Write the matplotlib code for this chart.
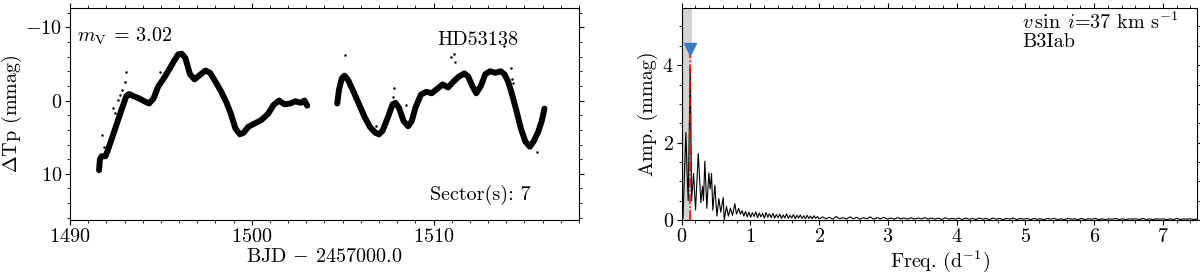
import numpy as np
import matplotlib
matplotlib.use("Agg")
import matplotlib.pyplot as plt
from matplotlib.ticker import MultipleLocator

plt.rcParams['font.family'] = ['cmr10', 'DejaVu Serif']
plt.rcParams['mathtext.fontset'] = 'cm'
plt.rcParams['axes.formatter.use_mathtext'] = True
plt.rcParams['axes.unicode_minus'] = True

# ---------------- light curve (band centre) ----------------
t_seg1 = [1491.60, 1491.65, 1491.75, 1491.95, 1492.05, 1492.30, 1492.60, 1492.90,
          1493.10, 1493.25, 1493.50, 1493.80, 1494.10, 1494.35, 1494.60, 1494.85,
          1495.10, 1495.40, 1495.70, 1495.95, 1496.15, 1496.35, 1496.60, 1496.85,
          1497.10, 1497.45, 1497.70, 1498.00, 1498.30, 1498.60, 1498.85, 1499.10,
          1499.35, 1499.55, 1499.80, 1500.10, 1500.50, 1500.90, 1501.20, 1501.50,
          1501.80, 1502.10, 1502.40, 1502.70, 1502.90, 1503.05]
m_seg1 = [9.5, 8.0, 7.6, 7.6, 7.0, 5.2, 3.0, 0.8,
          -0.6, -0.9, -0.6, -0.3, 0.1, 0.4, -0.3, -1.9,
          -2.8, -4.0, -5.3, -6.3, -6.4, -5.8, -3.6, -2.9,
          -3.4, -4.1, -3.8, -2.6, -1.3, 0.2, 1.8, 3.8,
          4.6, 4.4, 3.6, 3.2, 2.7, 1.8, 0.6, 0.0,
          0.5, 0.4, 0.1, 0.3, 0.0, 0.7]
t_seg2 = [1504.70, 1504.80, 1504.95, 1505.10, 1505.30, 1505.60, 1505.90, 1506.20,
          1506.50, 1506.80, 1507.00, 1507.20, 1507.50, 1507.75, 1507.90, 1508.10,
          1508.35, 1508.60, 1508.80, 1509.00, 1509.30, 1509.60, 1509.90, 1510.20,
          1510.50, 1510.80, 1511.10, 1511.40, 1511.70, 1511.90, 1512.15, 1512.35,
          1512.60, 1512.85, 1513.10, 1513.40, 1513.70, 1513.90, 1514.10, 1514.30,
          1514.55, 1514.80, 1515.05, 1515.30, 1515.50, 1515.75, 1515.95, 1516.10]
m_seg2 = [0.4, -1.5, -3.0, -3.4, -2.8, -1.2, 0.5, 2.2,
          3.6, 4.4, 4.6, 4.1, 2.2, 0.5, 0.3, 1.0,
          2.8, 3.5, 2.8, 1.0, -0.8, -1.2, -1.0, -1.6,
          -2.2, -1.8, -2.6, -3.3, -3.7, -3.3, -1.9, -1.0,
          -2.0, -3.6, -4.0, -3.8, -4.0, -3.6, -2.6, -1.0,
          1.3, 3.8, 5.6, 6.3, 5.6, 4.3, 2.8, 1.1]
# isolated points off the band
t_out = [1491.74, 1491.87, 1492.38, 1492.47, 1492.66, 1492.75, 1492.84, 1493.02,
         1493.10, 1494.95, 1505.13, 1506.86, 1507.77, 1507.82, 1508.50, 1510.97,
         1511.15, 1511.17, 1513.85, 1514.26, 1514.30, 1514.35, 1515.70]
m_out = [4.7, 6.3, 1.0, 1.7, -0.1, -0.8, -1.5, -2.6,
         -3.9, -3.9, -6.2, 3.5, -0.5, -1.7, 0.6, -6.0,
         -6.4, -5.3, -7.4, -4.4, -3.0, -2.4, 7.0]

# ---------------- amplitude spectrum ----------------
f_lo = [0.000, 0.020, 0.040, 0.062, 0.080, 0.096, 0.125, 0.145, 0.174, 0.203,
        0.242, 0.280, 0.304, 0.318, 0.338, 0.367, 0.396, 0.416, 0.435, 0.454,
        0.483, 0.513, 0.542, 0.570, 0.605, 0.620, 0.653, 0.680, 0.710, 0.740,
        0.774, 0.798, 0.830]
a_lo = [0.30, 0.05, 1.10, 2.26, 1.20, 0.50, 3.92, 0.50, 1.20, 0.26,
        1.72, 0.45, 0.87, 0.50, 1.52, 0.30, 1.22, 0.80, 1.20, 0.25,
        0.90, 0.10, 0.55, 0.20, 0.58, 0.00, 0.35, 0.10, 0.30, 0.12,
        0.42, 0.15, 0.30]
a_mid = [0.15, 0.24, 0.10, 0.22, 0.08, 0.20, 0.07, 0.19, 0.09, 0.21, 0.06, 0.18,
         0.08, 0.17, 0.05, 0.19, 0.07, 0.16, 0.06, 0.17, 0.05, 0.14, 0.06, 0.15,
         0.04, 0.13, 0.05, 0.16, 0.04, 0.12, 0.05, 0.14, 0.03, 0.12, 0.05, 0.13,
         0.04, 0.11, 0.03, 0.12, 0.04, 0.10, 0.03, 0.11, 0.04, 0.09, 0.03]
a_hi = [0.08, 0.03, 0.07, 0.02, 0.09, 0.03, 0.06, 0.02, 0.08, 0.03, 0.07, 0.02,
        0.06, 0.03, 0.08, 0.02, 0.06, 0.03, 0.07, 0.02, 0.05, 0.02, 0.06, 0.03,
        0.05, 0.02, 0.06, 0.02, 0.05, 0.03, 0.06, 0.02, 0.05, 0.02, 0.05, 0.01,
        0.06, 0.02, 0.04, 0.02, 0.05, 0.01, 0.05, 0.02, 0.04, 0.01, 0.05, 0.02,
        0.04, 0.01, 0.05, 0.02, 0.04, 0.01, 0.04, 0.02, 0.05, 0.01, 0.04, 0.02,
        0.04, 0.01, 0.04, 0.02, 0.03, 0.01, 0.04, 0.02, 0.04, 0.01, 0.03, 0.01,
        0.04, 0.02, 0.03, 0.01, 0.04, 0.01, 0.03, 0.02, 0.04, 0.01, 0.03, 0.01,
        0.03, 0.02, 0.04, 0.01, 0.03, 0.01, 0.03, 0.02, 0.03, 0.01, 0.04, 0.01,
        0.03, 0.01, 0.03, 0.02, 0.03, 0.01, 0.03, 0.01, 0.04, 0.01, 0.03, 0.02,
        0.03, 0.01, 0.03]
f_mid = np.linspace(0.855, 2.0, len(a_mid))
f_hi = np.linspace(2.05, 7.5, len(a_hi))
freq = np.concatenate([f_lo, f_mid, f_hi])
amp = np.concatenate([a_lo, a_mid, a_hi])

f_peak = 0.125
a_mark = 4.41
f_shade = 0.145

FS = 14.5

fig = plt.figure(figsize=(12, 2.76), dpi=100)
ax1 = fig.add_axes([0.0583, 0.203, 0.4242, 0.767])
ax2 = fig.add_axes([0.568, 0.203, 0.4298, 0.767])

ax1.plot(t_seg1, m_seg1, color='black', lw=4.3, solid_joinstyle='round', solid_capstyle='round')
ax1.plot(t_seg2, m_seg2, color='black', lw=4.3, solid_joinstyle='round', solid_capstyle='round')
ax1.plot(t_out, m_out, 'o', color='black', ms=1.8, mew=0)
ax1.set_xlim(1490, 1518)
ax1.set_ylim(16.3, -12.6)
ax1.xaxis.set_major_locator(MultipleLocator(10))
ax1.xaxis.set_minor_locator(MultipleLocator(1))
ax1.yaxis.set_major_locator(MultipleLocator(10))
ax1.yaxis.set_minor_locator(MultipleLocator(2))
ax1.set_xlabel(r'BJD $-$ 2457000.0', fontsize=FS, labelpad=2)
ax1.set_ylabel(r'$\Delta$Tp (mmag)', fontsize=FS, labelpad=1)
ax1.text(0.014, 0.87, r'$m_{\rm V}$ = 3.02', transform=ax1.transAxes, fontsize=FS, va='center', ha='left')
ax1.text(0.882, 0.85, 'HD53138', transform=ax1.transAxes, fontsize=FS, va='center', ha='right')
ax1.text(0.905, 0.12, 'Sector(s): 7', transform=ax1.transAxes, fontsize=FS, va='center', ha='right')

ax2.axvspan(0, f_shade, color='#d3d3d3', lw=0, zorder=0)
ax2.plot(freq, amp, color='black', lw=0.8, zorder=2)
ax2.plot([f_peak, f_peak], [0, a_mark], color='red', ls='-.', lw=1.1, zorder=3)
ax2.plot([f_peak], [a_mark], 'v', color='#3a7dc2', ms=9, zorder=4)
ax2.set_xlim(0, 7.5)
ax2.set_ylim(0, 5.47)
ax2.xaxis.set_major_locator(MultipleLocator(1))
ax2.xaxis.set_minor_locator(MultipleLocator(0.2))
ax2.yaxis.set_major_locator(MultipleLocator(2))
ax2.yaxis.set_minor_locator(MultipleLocator(0.5))
ax2.set_xlabel(r'Freq. (d$^{-1}$)', fontsize=FS, labelpad=2)
ax2.set_ylabel('Amp. (mmag)', fontsize=FS, labelpad=3)
ax2.text(0.66, 0.935, r'$v\,\sin\;i$=37 km s$^{-1}$', transform=ax2.transAxes, fontsize=FS, va='center', ha='left')
ax2.text(0.66, 0.84, 'B3Iab', transform=ax2.transAxes, fontsize=FS, va='center', ha='left')

for ax in (ax1, ax2):
    ax.tick_params(which='both', direction='out', top=True, right=True, labelsize=FS, pad=2)
    ax.tick_params(which='major', length=3.5, width=0.8)
    ax.tick_params(which='minor', length=2.0, width=0.6)
    for s in ax.spines.values():
        s.set_linewidth(0.8)

fig.savefig('out.png', dpi=100)
